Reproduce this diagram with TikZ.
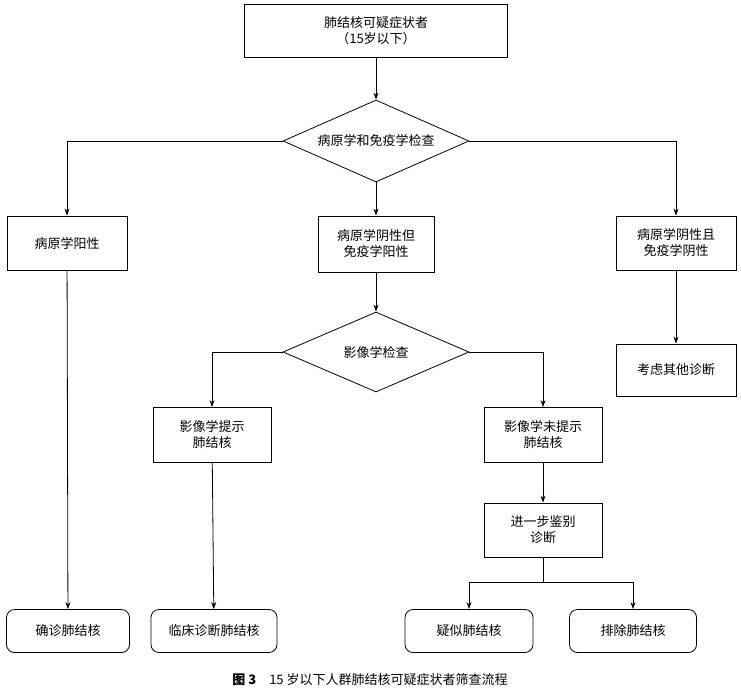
\documentclass[tikz,border=0pt]{standalone}
\usepackage{fontspec}
\setmainfont{Noto Sans CJK SC}
\usetikzlibrary{shapes.geometric,arrows.meta}
\begin{document}
\begin{tikzpicture}[x=1pt,y=-1pt,font=\fontsize{13}{16}\selectfont,
 box/.style={draw,thick,align=center,inner sep=0},
 dia/.style={draw,thick,diamond,aspect=2.3,inner sep=0,minimum width=186pt,minimum height=82pt},
 rbox/.style={draw,thick,rounded corners=8pt,align=center},
 arr/.style={thick,-{Stealth[length=7pt,width=5pt]}}]
\useasboundingbox (0,0) rectangle (741,690);
\node[box,minimum width=263pt,minimum height=53pt] (top) at (376,31) {肺结核可疑症状者\\（15岁以下）};
\node[dia] (d1) at (376,141) {病原学和免疫学检查};
\node[box,minimum width=120pt,minimum height=54pt] (l) at (67,243) {病原学阳性};
\node[box,minimum width=116pt,minimum height=56pt] (m) at (376,244) {病原学阴性但\\免疫学阳性};
\node[box,minimum width=120pt,minimum height=54pt] (r) at (676,243) {病原学阴性且\\免疫学阴性};
\node[dia,minimum height=80pt] (d2) at (376,352) {影像学检查};
\node[box,minimum width=118pt,minimum height=55pt] (iy) at (212,435) {影像学提示\\肺结核};
\node[box,minimum width=118pt,minimum height=55pt] (in) at (543,435) {影像学未提示\\肺结核};
\node[box,minimum width=118pt,minimum height=54pt] (f) at (543,530) {进一步鉴别\\诊断};
\node[box,minimum width=120pt,minimum height=52pt] (o) at (676,370) {考虑其他诊断};
\node[rbox,minimum width=123pt,minimum height=43pt] (b1) at (68,631) {确诊肺结核};
\node[rbox,minimum width=126pt,minimum height=43pt] (b2) at (214,631) {临床诊断肺结核};
\node[rbox,minimum width=128pt,minimum height=43pt] (b3) at (469,631) {疑似肺结核};
\node[rbox,minimum width=127pt,minimum height=43pt] (b4) at (633,631) {排除肺结核};
\node (cap) at (370,680) {\textbf{图 3}\quad 15 岁以下人群肺结核可疑症状者筛查流程};
\draw[arr] (top) -- (d1);
\draw[arr] (d1.west) -| (l.north);
\draw[arr] (d1.east) -| (r.north);
\draw[arr] (d1) -- (m);
\draw[arr] (l) -- (b1);
\draw[arr] (m) -- (d2);
\draw[arr] (d2.west) -| (iy.north);
\draw[arr] (d2.east) -| (in.north);
\draw[arr] (iy) -- (b2);
\draw[arr] (in) -- (f);
\draw[arr] (r) -- (o);
\coordinate (j) at (543,582);
\draw[thick] (f.south) -- (j);
\draw[arr] (j) -| (b3.north);
\draw[arr] (j) -| (b4.north);
\end{tikzpicture}
\end{document}
